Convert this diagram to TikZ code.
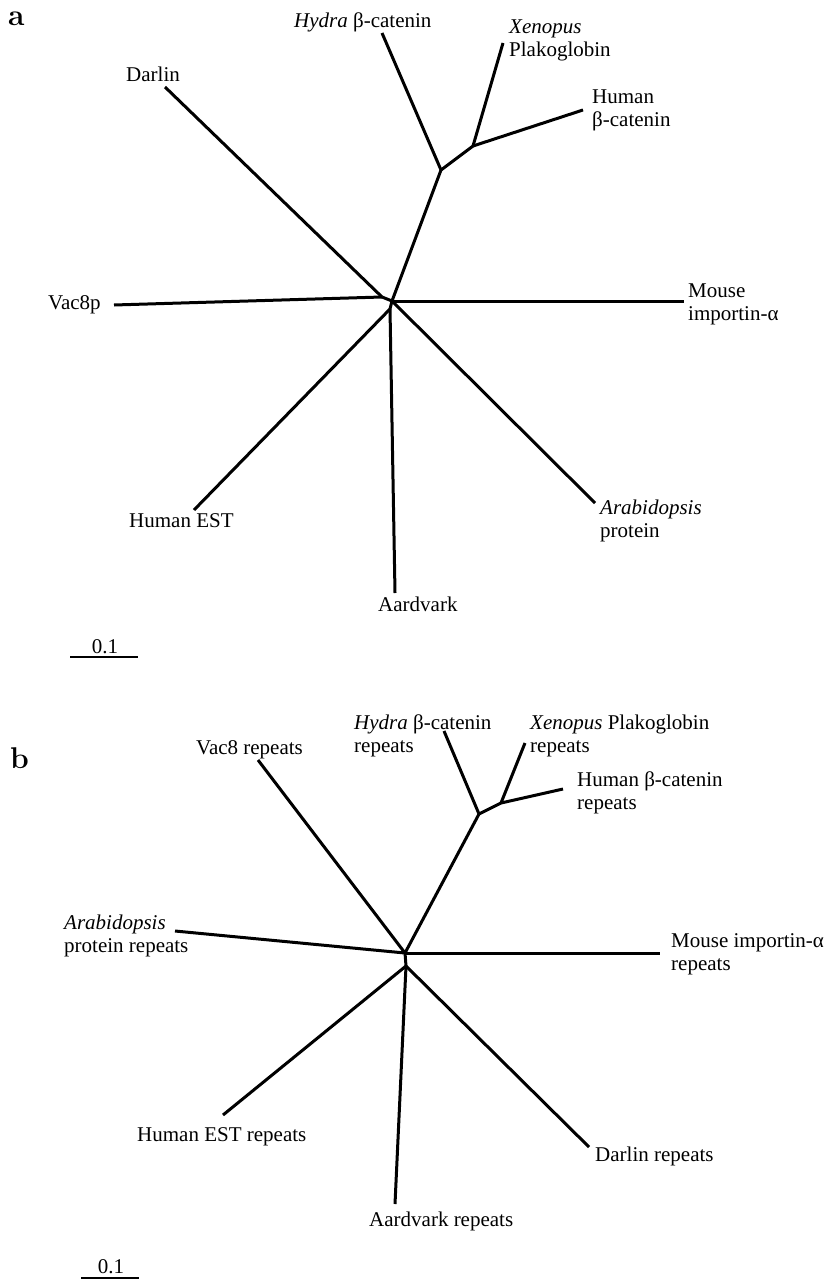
\documentclass[tikz,border=0pt]{standalone}
\usepackage{fontspec}
\newfontfamily\tnr{Liberation Serif}
\begin{document}
\begin{tikzpicture}[x=1pt,y=-1pt,
  branch/.style={line width=3pt, line join=round},
  lbl/.style={font=\tnr\fontsize{21}{23}\selectfont, inner sep=0pt, anchor=base west},
  panel/.style={font=\bfseries\fontsize{30}{32}\selectfont, inner sep=0pt, anchor=base west},
  barlbl/.style={font=\tnr\fontsize{21}{23}\selectfont, inner sep=0pt, anchor=base},
  scalebar/.style={line width=2.8pt}]
\useasboundingbox (0,0) rectangle (831,1281);

% ---------------- panel a ----------------
\node[panel] (pa) at (8,26) {a};

% internal nodes
\coordinate (aC)  at (392,301);
\coordinate (aN1) at (382,297);
\coordinate (aN2) at (390,309);
\coordinate (aH1) at (441,170);
\coordinate (aH2) at (473,146);
% leaves
\coordinate (aDarlin) at (165,87);
\coordinate (aVac)    at (114,305);
\coordinate (aHydra)  at (382,33);
\coordinate (aXen)    at (503,43);
\coordinate (aHbeta)  at (583,110);
\coordinate (aMouse)  at (684,301);
\coordinate (aEST)    at (194,510);
\coordinate (aAard)   at (395,593);
\coordinate (aArab)   at (595,503);

\draw[branch] (aN1) -- (aDarlin);
\draw[branch] (aN1) -- (aVac);
\draw[branch] (aN1) -- (aC);
\draw[branch] (aC) -- (aH1);
\draw[branch] (aH1) -- (aHydra);
\draw[branch] (aH1) -- (aH2);
\draw[branch] (aH2) -- (aXen);
\draw[branch] (aH2) -- (aHbeta);
\draw[branch] (aC) -- (aMouse);
\draw[branch] (aC) -- (aN2);
\draw[branch] (aN2) -- (aEST);
\draw[branch] (aN2) -- (aAard);
\draw[branch] (aC) -- (aArab);

\node[lbl] (laDarlin) at (126,82) {Darlin};
\node[lbl] (laVac)    at (48,309) {Vac8p};
\node[lbl] (laHydra)  at (294,28) {{\itshape Hydra} β-catenin};
\node[lbl] (laXen1)   at (509,34) {\itshape Xenopus};
\node[lbl] (laXen2)   at (509,57) {Plakoglobin};
\node[lbl] (laHb1)    at (592,104) {Human};
\node[lbl] (laHb2)    at (592,127) {β-catenin};
\node[lbl] (laMouse1) at (688,297) {Mouse};
\node[lbl] (laMouse2) at (688,320) {importin-α};
\node[lbl] (laEST)    at (129,527) {Human EST};
\node[lbl] (laAard)   at (378,611) {Aardvark};
\node[lbl] (laArab1)  at (600,514) {\itshape Arabidopsis};
\node[lbl] (laArab2)  at (600,537) {protein};

\coordinate (sbA1) at (70,657);
\coordinate (sbA2) at (138,657);
\draw[scalebar] (sbA1) -- (sbA2);
\node[barlbl] (sbAl) at (105,653) {0.1};

% ---------------- panel b ----------------
\node[panel] (pb) at (10,768) {b};

\coordinate (bC)  at (405,953);
\coordinate (bN2) at (406,966);
\coordinate (bH1) at (479,814);
\coordinate (bH2) at (501,803);
\coordinate (bVac)   at (258,760);
\coordinate (bHydra) at (444,731);
\coordinate (bXen)   at (525,743);
\coordinate (bHbeta) at (563,789);
\coordinate (bArab)  at (175,931);
\coordinate (bMouse) at (660,953);
\coordinate (bEST)   at (223,1115);
\coordinate (bAard)  at (395,1204);
\coordinate (bDarlin) at (589,1147);

\draw[branch] (bC) -- (bVac);
\draw[branch] (bC) -- (bArab);
\draw[branch] (bC) -- (bH1);
\draw[branch] (bH1) -- (bHydra);
\draw[branch] (bH1) -- (bH2);
\draw[branch] (bH2) -- (bXen);
\draw[branch] (bH2) -- (bHbeta);
\draw[branch] (bC) -- (bMouse);
\draw[branch] (bC) -- (bN2);
\draw[branch] (bN2) -- (bEST);
\draw[branch] (bN2) -- (bAard);
\draw[branch] (bN2) -- (bDarlin);

\node[lbl] (lbVac)    at (196,754) {Vac8 repeats};
\node[lbl] (lbHydra1) at (354,729) {{\itshape Hydra} β-catenin};
\node[lbl] (lbHydra2) at (354,752) {repeats};
\node[lbl] (lbXen1)   at (530,729) {{\itshape Xenopus} Plakoglobin};
\node[lbl] (lbXen2)   at (530,752) {repeats};
\node[lbl] (lbHb1)    at (577,786) {Human β-catenin};
\node[lbl] (lbHb2)    at (577,809) {repeats};
\node[lbl] (lbArab1)  at (64,929) {\itshape Arabidopsis};
\node[lbl] (lbArab2)  at (64,952) {protein repeats};
\node[lbl] (lbMouse1) at (671,947) {Mouse importin-α};
\node[lbl] (lbMouse2) at (671,970) {repeats};
\node[lbl] (lbEST)    at (137,1141) {Human EST repeats};
\node[lbl] (lbAard)   at (369,1226) {Aardvark repeats};
\node[lbl] (lbDarlin) at (595,1161) {Darlin repeats};

\coordinate (sbB1) at (81,1278);
\coordinate (sbB2) at (139,1278);
\draw[scalebar] (sbB1) -- (sbB2);
\node[barlbl] (sbBl) at (111,1273) {0.1};
\end{tikzpicture}
\end{document}
